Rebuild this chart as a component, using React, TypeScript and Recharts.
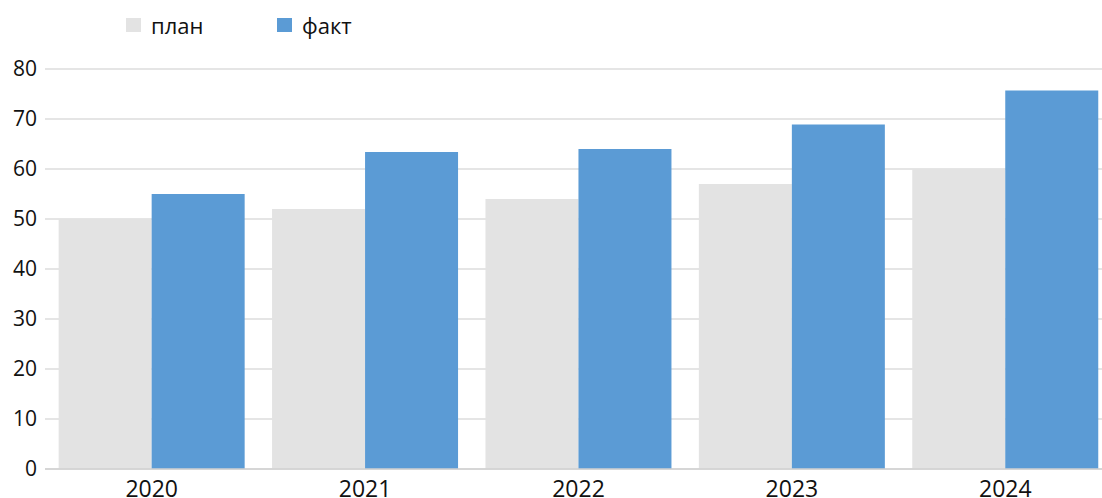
import { BarChart, Bar, XAxis, YAxis, CartesianGrid, Legend } from 'recharts';

const years = ['2020', '2021', '2022', '2023', '2024'];
const plan = [50, 52, 54, 57, 60];
const fact = [55, 63.4, 64, 68.9, 75.7];
const yTicks = [0, 10, 20, 30, 40, 50, 60, 70, 80];

const data = years.map((year, i) => ({ year, plan: plan[i], fact: fact[i] }));

const FONT = '"Open Sans", "Noto Sans", sans-serif';

function LegendBox() {
  const items = [
    { label: 'план', color: '#e3e3e3' },
    { label: 'факт', color: '#5b9bd5' },
  ];
  return (
    <div style={{ display: 'flex', fontFamily: FONT, fontSize: 22, color: '#111' }}>
      {items.map((it) => (
        <div key={it.label} style={{ display: 'flex', alignItems: 'center', width: 151 }}>
          <span style={{ width: 15, height: 14, background: it.color, marginRight: 10 }} />
          <span>{it.label}</span>
        </div>
      ))}
    </div>
  );
}

export default function App() {
  return (
    <div style={{ position: 'absolute', left: 0, top: 0, width: 1102, height: 498, overflow: 'hidden', background: '#fff' }}>
      <BarChart
        width={1112}
        height={498}
        data={data}
        margin={{ top: 69, right: 0, bottom: 0, left: 0 }}
        barCategoryGap="6.4%"
        barGap={0}
      >
        <CartesianGrid vertical={false} stroke="#dcdcdc" strokeWidth={1.5} />
        <XAxis
          dataKey="year"
          height={29}
          tickLine={false}
          axisLine={{ stroke: '#d0d0d0', strokeWidth: 1.5 }}
          tickMargin={6}
          tick={{ fill: '#111', fontSize: 23, fontFamily: FONT }}
        />
        <YAxis
          width={45}
          domain={[0, 80]}
          ticks={yTicks}
          axisLine={false}
          tickLine={false}
          tick={{ fill: '#111', fontSize: 21, fontFamily: FONT }}
        />
        <Legend
          verticalAlign="middle"
          content={<LegendBox />}
          wrapperStyle={{ top: 10, left: 126, width: 400 }}
        />
        <Bar dataKey="plan" fill="#e3e3e3" isAnimationActive={false} />
        <Bar dataKey="fact" fill="#5b9bd5" isAnimationActive={false} />
      </BarChart>
    </div>
  );
}
